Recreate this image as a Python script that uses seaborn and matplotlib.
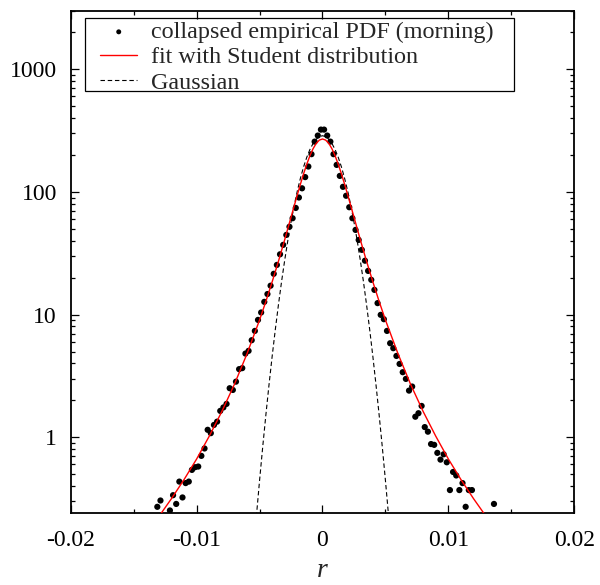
import matplotlib
matplotlib.use("Agg")
import matplotlib.pyplot as plt
import seaborn as sns
import pandas as pd
from matplotlib.patches import Rectangle
from matplotlib.ticker import FixedLocator, FixedFormatter, MultipleLocator, LogLocator, NullFormatter

# ---- data ----
emp_r = [-0.013125, -0.012875, -0.012125, -0.011875, -0.011625, -0.011375, -0.011125,
         -0.010875, -0.010625, -0.010375, -0.010125, -0.009875, -0.009625, -0.009375,
         -0.009125, -0.008875, -0.008625, -0.008375, -0.008125, -0.007875, -0.007625,
         -0.007375, -0.007125, -0.006875, -0.006625, -0.006375, -0.006125, -0.005875,
         -0.005625, -0.005375, -0.005125, -0.004875, -0.004625, -0.004375, -0.004125,
         -0.003875, -0.003625, -0.003375, -0.003125, -0.002875, -0.002625, -0.002375,
         -0.002125, -0.001875, -0.001625, -0.001375, -0.001125, -0.000875, -0.000625,
         -0.000375, -0.000125,
         0.000125, 0.000375, 0.000625, 0.000875, 0.001125, 0.001375, 0.001625, 0.001875,
         0.002125, 0.002375, 0.002625, 0.002875, 0.003125, 0.003375, 0.003625, 0.003875,
         0.004125, 0.004375, 0.004625, 0.004875, 0.005125, 0.005375, 0.005625, 0.005875,
         0.006125, 0.006375, 0.006625, 0.006875, 0.007125, 0.007375, 0.007625, 0.007875,
         0.008125, 0.008375, 0.008625, 0.008875, 0.009125, 0.009375, 0.009625, 0.009875,
         0.010125, 0.010375, 0.010625, 0.010875, 0.011125, 0.011375, 0.011625, 0.011875,
         0.013625]
emp_pdf = [0.271, 0.305, 0.253, 0.337, 0.286, 0.435, 0.323,
           0.423, 0.435, 0.542, 0.570, 0.577, 0.705, 0.81,
           1.15, 1.08, 1.26, 1.34, 1.64, 1.75, 1.87,
           2.51, 2.43, 2.84, 3.59, 3.66, 4.81, 5.06,
           6.18, 7.36, 9.05, 10.4, 12.7, 14.7, 17.2,
           21.5, 25.4, 31.0, 37.0, 44.6, 52.0, 61.0,
           74.0, 90.0, 107.0, 132.0, 161.0, 203.0, 257.0,
           288.0, 322.0,
           322.0, 288.0, 257.0, 203.0, 166.0, 135.0, 110.0, 93.0,
           75.0, 61.0, 49.0, 40.6, 33.7, 27.5, 22.7, 19.2,
           15.9, 12.4, 9.95, 9.17, 7.36, 5.84, 5.32, 4.60,
           3.96, 3.39, 2.99, 2.40, 2.59, 1.47, 1.57, 1.80,
           1.21, 1.11, 0.88, 0.867, 0.746, 0.657, 0.726, 0.625,
           0.371, 0.521, 0.488, 0.371, 0.423, 0.271, 0.371, 0.371,
           0.286]

student_r = [-0.0135, -0.013, -0.012, -0.011, -0.010, -0.009, -0.008, -0.007, -0.006,
             -0.005, -0.0045, -0.004, -0.0035, -0.003, -0.0025, -0.002, -0.00175,
             -0.0015, -0.00125, -0.001, -0.00075, -0.0005, -0.00025, 0.0,
             0.00025, 0.0005, 0.00075, 0.001, 0.00125, 0.0015, 0.00175, 0.002,
             0.0025, 0.003, 0.0035, 0.004, 0.0045, 0.005, 0.006, 0.007, 0.008,
             0.009, 0.010, 0.011, 0.012, 0.013, 0.0135]
student_pdf = [0.193, 0.226, 0.316, 0.452, 0.665, 1.02, 1.62, 2.70, 4.79,
               9.04, 12.8, 18.5, 27.2, 40.9, 62.3, 94.7, 116.0,
               140.8, 168.2, 197.1, 224.9, 248.5, 264.4, 270.0,
               264.4, 248.5, 224.9, 197.1, 168.2, 140.8, 116.0, 94.7,
               62.3, 40.9, 27.2, 18.5, 12.8, 9.04, 4.79, 2.70, 1.62,
               1.02, 0.665, 0.452, 0.316, 0.226, 0.193]

gauss_r = [-0.0055, -0.00525, -0.005, -0.00475, -0.0045, -0.00425, -0.004, -0.00375,
           -0.0035, -0.00325, -0.003, -0.00275, -0.0025, -0.00225, -0.002, -0.00175,
           -0.0015, -0.00125, -0.001, -0.00075, -0.0005, -0.00025, 0.0,
           0.00025, 0.0005, 0.00075, 0.001, 0.00125, 0.0015, 0.00175, 0.002,
           0.00225, 0.0025, 0.00275, 0.003, 0.00325, 0.0035, 0.00375, 0.004,
           0.00425, 0.0045, 0.00475, 0.005, 0.00525, 0.0055]
gauss_pdf = [0.114, 0.229, 0.445, 0.836, 1.52, 2.68, 4.57, 7.54,
             12.05, 18.66, 27.9, 40.5, 56.9, 77.4, 101.9, 129.9,
             160.3, 191.5, 221.6, 248.1, 269.0, 282.4, 287.0,
             282.4, 269.0, 248.1, 221.6, 191.5, 160.3, 129.9, 101.9,
             77.4, 56.9, 40.5, 27.9, 18.66, 12.05, 7.54, 4.57,
             2.68, 1.52, 0.836, 0.445, 0.229, 0.114]

x_ticks = [-0.02, -0.01, 0.0, 0.01, 0.02]
x_tick_labels = ["-0.02", "-0.01", "0", "0.01", "0.02"]
y_ticks = [1, 10, 100, 1000]
y_tick_labels = ["1", "10", "100", "1000"]

label_emp = "collapsed empirical PDF (morning)"
label_student = "fit with Student distribution"
label_gauss = "Gaussian"
x_label = "r"

# ---- style ----
sns.set_style("ticks")
plt.rcParams["font.family"] = ["Liberation Serif", "DejaVu Serif"]
plt.rcParams["axes.unicode_minus"] = False

fig = plt.figure(figsize=(6.0, 5.85), dpi=100)
ax = fig.add_axes([0.118, 0.1226, 0.839, 0.8591])

emp_df = pd.DataFrame({"r": emp_r, "pdf": emp_pdf})
stu_df = pd.DataFrame({"r": student_r, "pdf": student_pdf})
gau_df = pd.DataFrame({"r": gauss_r, "pdf": gauss_pdf})

sns.scatterplot(data=emp_df, x="r", y="pdf", ax=ax, color="black", s=20,
                edgecolor="none", linewidth=0, label=label_emp, zorder=3)
sns.lineplot(data=stu_df, x="r", y="pdf", ax=ax, color="#ff0000", linewidth=1.0,
             estimator=None, sort=False, label=label_student, zorder=4)
sns.lineplot(data=gau_df, x="r", y="pdf", ax=ax, color="black", linewidth=0.8,
             estimator=None, sort=False, label=label_gauss, zorder=2,
             linestyle=(0, (4, 2.5)))

ax.set_yscale("log")
ax.set_xlim(-0.02, 0.02)
ax.set_ylim(0.24, 3000)

ax.xaxis.set_major_locator(FixedLocator(x_ticks))
ax.xaxis.set_major_formatter(FixedFormatter(x_tick_labels))
ax.xaxis.set_minor_locator(MultipleLocator(0.005))
ax.yaxis.set_major_locator(FixedLocator(y_ticks))
ax.yaxis.set_major_formatter(FixedFormatter(y_tick_labels))
ax.yaxis.set_minor_locator(LogLocator(base=10, subs=[2, 3, 4, 5, 6, 7, 8, 9], numticks=20))
ax.yaxis.set_minor_formatter(NullFormatter())

ax.tick_params(which="both", direction="in", top=True, right=True, colors="black",
               labelsize=17)
ax.tick_params(which="major", length=5.5, width=0.9)
ax.tick_params(which="minor", length=3.0, width=0.9)
ax.tick_params(axis="x", which="major", pad=12)
ax.tick_params(axis="y", which="major", pad=10)

for sp in ax.spines.values():
    sp.set_visible(True)
    sp.set_linewidth(1.3)
    sp.set_color("black")

ax.set_xlabel(x_label, fontsize=20, fontstyle="italic", labelpad=5)
ax.set_ylabel("")

# legend: content placed with the library, frame drawn at the reference box position
handles, labels = ax.get_legend_handles_labels()
leg = ax.legend(handles, labels, loc="upper left", bbox_to_anchor=(0.058, 0.979),
                borderaxespad=0, borderpad=0, fontsize=17.4, frameon=False,
                labelspacing=0.14, handlelength=1.55, handletextpad=0.58,
                markerscale=0.8)
ax.add_patch(Rectangle((0.0284, 0.840), 0.8526, 0.1455, transform=ax.transAxes,
                       facecolor="none", edgecolor="black", linewidth=0.9,
                       zorder=5, clip_on=False))

fig.savefig("out.png", dpi=100)
